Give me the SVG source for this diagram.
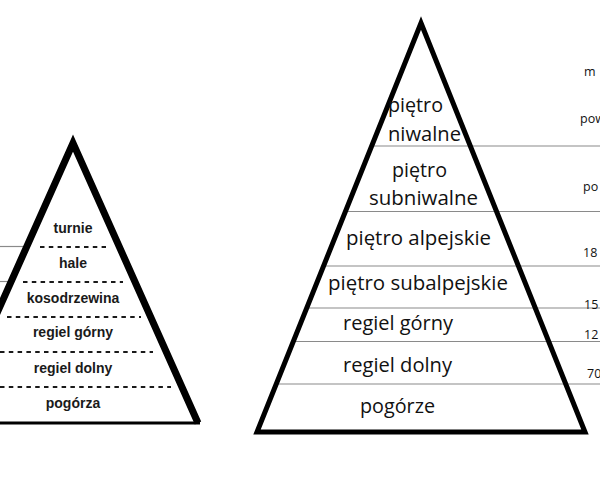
<svg xmlns="http://www.w3.org/2000/svg" width="600" height="480" viewBox="0 0 600 480">
<style>
.bg{fill:#fff}
.tri1{fill:none;stroke:#000;stroke-width:7;stroke-linejoin:miter}
.tri2{fill:none;stroke:#000;stroke-width:5;stroke-linejoin:miter}
.dash{stroke:#1a1a1a;stroke-width:2;stroke-dasharray:4.5 4.3}
.gray{stroke:#8a8a8a;stroke-width:1.2;fill:none}
.lb{font-family:"Liberation Sans",Arial,sans-serif;font-weight:bold;font-size:14px;fill:#1a1a1a;text-anchor:middle}
.rt{font-family:"Open Sans","Noto Sans",sans-serif;font-size:20px;fill:#111}
.sm{font-family:"Open Sans","Noto Sans",sans-serif;font-size:12.5px;fill:#111}
</style>
<rect class="bg" x="0" y="0" width="600" height="480"/>
<g id="connectors">
  <line class="gray" x1="0" y1="246.5" x2="27" y2="246.5"/>
  <line class="gray" x1="0" y1="281.5" x2="11" y2="281.5"/>
  <line class="gray" x1="372" y1="146" x2="600" y2="146"/>
  <line class="gray" x1="346" y1="211.5" x2="600" y2="211.5"/>
  <line class="gray" x1="324" y1="266" x2="600" y2="266"/>
  <line class="gray" x1="307" y1="308" x2="600" y2="308"/>
  <line class="gray" x1="293" y1="341.5" x2="600" y2="341.5"/>
  <line class="gray" x1="276" y1="384" x2="600" y2="384"/>
</g>
<g id="left-pyramid">
  <path class="tri1" d="M -52 423 L 73 143 L 198 423"/>
  <line x1="0" y1="423" x2="200" y2="423" stroke="#000" stroke-width="3"/>
  <line class="dash" x1="40" y1="247" x2="106" y2="247"/>
  <line class="dash" x1="23" y1="282" x2="123" y2="282"/>
  <line class="dash" x1="7" y1="317" x2="141" y2="317"/>
  <line class="dash" x1="0" y1="352" x2="153" y2="352"/>
  <line class="dash" x1="0" y1="387" x2="171" y2="387"/>
</g>
<g id="l-turnie"><text class="lb" x="73" y="233">turnie</text></g>
<g id="l-hale"><text class="lb" x="73" y="268">hale</text></g>
<g id="l-kosodrzewina"><text class="lb" x="73" y="303">kosodrzewina</text></g>
<g id="l-regiel-gorny"><text class="lb" x="73" y="337">regiel górny</text></g>
<g id="l-regiel-dolny"><text class="lb" x="73" y="373">regiel dolny</text></g>
<g id="l-pogorza"><text class="lb" x="73" y="408">pogórza</text></g>
<g id="right-pyramid">
  <polygon class="tri2" points="421,23 585,432 257,432"/>
</g>
<g id="r-niwalne"><text class="rt" x="388" y="112" textLength="55" lengthAdjust="spacingAndGlyphs">piętro</text><text class="rt" x="388" y="141" textLength="73" lengthAdjust="spacingAndGlyphs">niwalne</text></g>
<g id="r-subniwalne"><text class="rt" x="392" y="177" textLength="55" lengthAdjust="spacingAndGlyphs">piętro</text><text class="rt" x="369" y="205" textLength="109" lengthAdjust="spacingAndGlyphs">subniwalne</text></g>
<g id="r-alpejskie"><text class="rt" x="346" y="245" textLength="145" lengthAdjust="spacingAndGlyphs">piętro alpejskie</text></g>
<g id="r-subalpejskie"><text class="rt" x="328" y="290" textLength="180" lengthAdjust="spacingAndGlyphs">piętro subalpejskie</text></g>
<g id="r-regiel-gorny"><text class="rt" x="343" y="330" textLength="110" lengthAdjust="spacingAndGlyphs">regiel górny</text></g>
<g id="r-regiel-dolny"><text class="rt" x="343" y="372" textLength="109" lengthAdjust="spacingAndGlyphs">regiel dolny</text></g>
<g id="r-pogorze"><text class="rt" x="360" y="413" textLength="75" lengthAdjust="spacingAndGlyphs">pogórze</text></g>
<g id="scale">
  <text class="sm" x="584" y="76">m</text>
  <text class="sm" x="580" y="123">pow</text>
  <text class="sm" x="583" y="191">po</text>
  <text class="sm" x="583" y="257">18</text>
  <text class="sm" x="584" y="309">15</text>
  <text class="sm" x="584" y="339">12</text>
  <text class="sm" x="587" y="378">70</text>
</g>
</svg>
